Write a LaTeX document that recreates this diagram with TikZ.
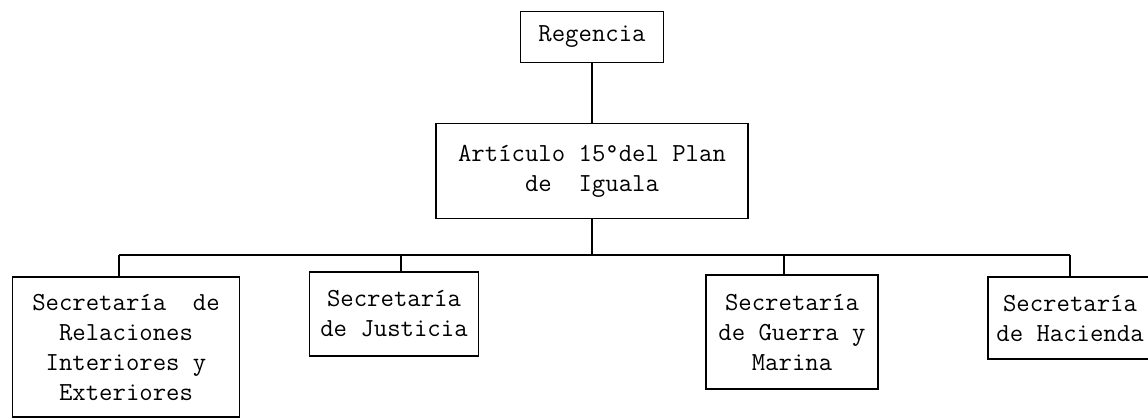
\documentclass[tikz,border=0pt]{standalone}
\usepackage{fontspec}
\tikzset{
  orgbox/.style = {draw, line width = 1.8pt, inner sep = 0pt, align = center,
    font = \ttfamily\fontsize{26}{30}\selectfont}
}
\begin{document}
\begin{tikzpicture}
      [x = 1pt, y = -1pt, line width = 1.8pt]
      \useasboundingbox (0,0) rectangle (1148,419);
      \node[orgbox, minimum width = 143, minimum height = 51] (regencia) at (592,37) {Regencia};
      \node[orgbox, minimum width = 312, minimum height = 95] (articulo) at (592,171)
        {Artículo 15°del Plan\\de\ \ Iguala};
      \node[orgbox, minimum width = 227, minimum height = 140] (secRel) at (126,347)
        {Secretaría\ \ de\\Relaciones\\Interiores y\\Exteriores};
      \node[orgbox, minimum width = 169, minimum height = 84] (secJus) at (394,314)
        {Secretaría\\de Justicia};
      \node[orgbox, minimum width = 172, minimum height = 114] (secGue) at (792,332)
        {Secretaría\\de Guerra y\\Marina};
      \node[orgbox, minimum width = 164, minimum height = 82] (secHac) at (1070,318)
        {Secretaría\\de Hacienda};
      \coordinate (busL) at (119,255);
      \coordinate (busR) at (1070,255);
      \draw (regencia.south) -- (regencia.south |- articulo.north);
      \draw (articulo.south) -- (articulo.south |- busL);
      \draw (busL) -- (busR);
      \foreach \n/\x in {secRel/119, secJus/401, secGue/784, secHac/1070}
        \draw (\x,255) coordinate (drop) -- (drop |- \n.north);
\end{tikzpicture}
\end{document}
